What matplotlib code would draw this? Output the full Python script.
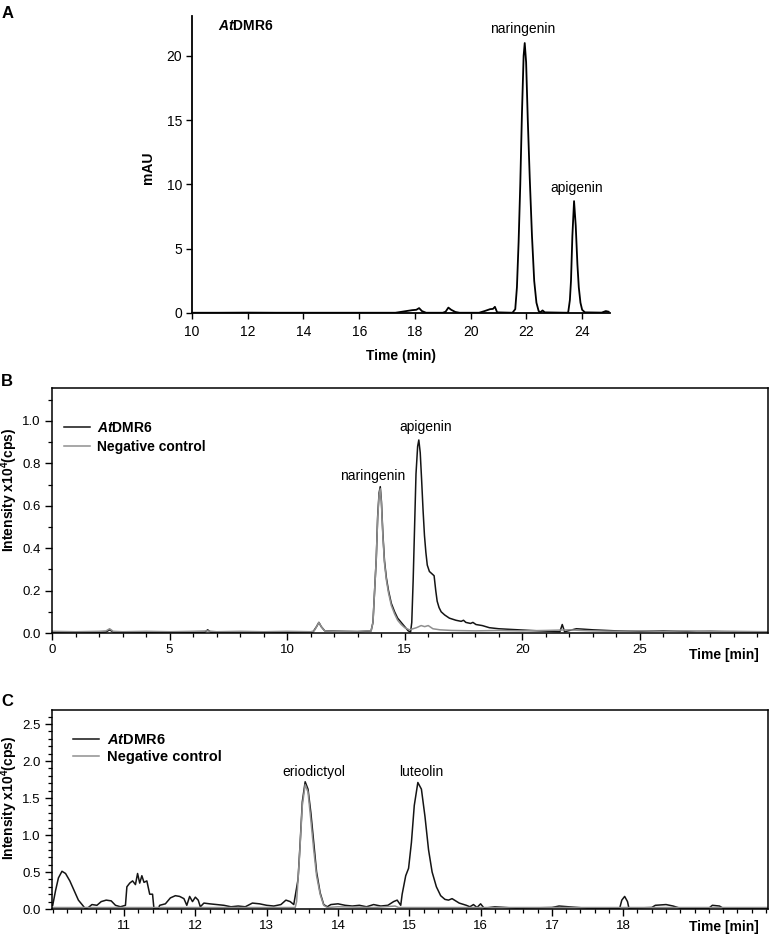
import matplotlib
matplotlib.use("Agg")
import matplotlib.pyplot as plt
from matplotlib.ticker import MultipleLocator, FuncFormatter

plt.rcParams['font.family'] = ['Liberation Sans', 'DejaVu Sans']
plt.rcParams['mathtext.fontset'] = 'custom'
plt.rcParams['mathtext.rm'] = 'Liberation Sans:bold'
plt.rcParams['mathtext.bf'] = 'Liberation Sans:bold'
plt.rcParams['mathtext.it'] = 'Liberation Sans:italic:bold'
plt.rcParams['mathtext.default'] = 'rm'

# ---------------- Panel A data (HPLC, mAU) ----------------
a_time = [10, 11, 12, 13, 14, 15, 16, 17, 17.3, 17.6, 17.9, 18.05, 18.15, 18.25, 18.4,
          19.0, 19.1, 19.2, 19.3, 19.45, 19.6, 20.3, 20.5, 20.7, 20.8, 20.87, 20.95,
          21.5, 21.6, 21.66, 21.72, 21.78, 21.84, 21.9, 21.94, 21.99, 22.05, 22.12, 22.2,
          22.28, 22.36, 22.44, 22.5, 22.58, 22.66, 23.45, 23.5, 23.56, 23.6, 23.65, 23.71,
          23.77, 23.83, 23.88, 23.94, 24.0, 24.1, 24.7, 24.85, 24.95]
a_mau = [0.02, 0.02, 0.03, 0.02, 0.02, 0.02, 0.02, 0.02, 0.02, 0.12, 0.22, 0.25, 0.38, 0.15, 0.02,
         0.02, 0.10, 0.42, 0.25, 0.08, 0.02, 0.02, 0.15, 0.30, 0.32, 0.48, 0.05,
         0.02, 0.30, 2.0, 5.5, 10.0, 15.5, 20.0, 21.0, 19.5, 15.0, 10.5, 6.0,
         2.5, 0.8, 0.15, 0.05, 0.20, 0.05, 0.02, 0.05, 1.0, 2.5, 6.0, 8.7,
         6.8, 3.8, 2.0, 0.8, 0.25, 0.05, 0.03, 0.15, 0.10]
a_labels = ['naringenin', 'apigenin']
a_label_pos = [(21.86, 22.1), (23.8, 9.7)]

# ---------------- Panel B data (LC-MS, naringenin -> apigenin) ----------------
b_time_dmr6 = [0, 1, 2, 2.3, 2.45, 2.6, 4, 6.5, 6.62, 6.75, 8, 10, 11.1, 11.25, 11.35, 11.45,
               11.6, 13.0, 13.57, 13.65, 13.72, 13.79, 13.85, 13.91, 13.96, 14.01, 14.07, 14.14,
               14.22, 14.31, 14.43, 14.57, 14.7, 14.85, 15.0, 15.15, 15.25, 15.3, 15.36, 15.42,
               15.48, 15.55, 15.6, 15.66, 15.72, 15.78, 15.84, 15.9, 15.96, 16.05, 16.15, 16.25,
               16.32, 16.38, 16.46, 16.55, 16.7, 16.9, 17.18, 17.4, 17.5, 17.6, 17.8, 17.9,
               18.03, 18.3, 18.6, 19.0, 19.5, 20.0, 20.7, 21.6, 21.7, 21.8, 22.3, 22.6, 23.0,
               24, 25, 26, 27, 28, 29, 30.45]
b_int_dmr6 = [0.004, 0.005, 0.004, 0.005, 0.015, 0.005, 0.004, 0.004, 0.015, 0.004, 0.005, 0.004,
              0.005, 0.03, 0.05, 0.03, 0.01, 0.006, 0.01, 0.05, 0.20, 0.35, 0.55, 0.66, 0.69,
              0.62, 0.47, 0.34, 0.26, 0.20, 0.14, 0.10, 0.07, 0.05, 0.03, 0.01, 0.005, 0.05,
              0.25, 0.50, 0.75, 0.88, 0.91, 0.85, 0.72, 0.58, 0.46, 0.38, 0.32, 0.29, 0.28,
              0.27, 0.20, 0.15, 0.12, 0.10, 0.085, 0.07, 0.06, 0.055, 0.06, 0.05, 0.045, 0.05,
              0.04, 0.035, 0.025, 0.02, 0.017, 0.014, 0.01, 0.006, 0.04, 0.006, 0.02, 0.018,
              0.015, 0.01, 0.008, 0.01, 0.007, 0.008, 0.006, 0.005]
b_time_ctrl = [0, 1, 2, 2.3, 2.45, 2.6, 3, 4, 5, 6, 6.6, 7, 8, 9, 10, 11, 11.15, 11.25, 11.35,
               11.45, 11.6, 12, 13, 13.5, 13.57, 13.65, 13.72, 13.79, 13.85, 13.91, 13.96, 14.01,
               14.07, 14.14, 14.22, 14.31, 14.43, 14.57, 14.7, 14.85, 15.0, 15.2, 15.5, 15.7,
               15.85, 16.0, 16.2, 16.5, 17, 18, 19, 20, 21, 22, 22.5, 23, 24, 25, 26, 27, 28,
               29, 30.45]
b_int_ctrl = [0.008, 0.006, 0.008, 0.01, 0.02, 0.008, 0.006, 0.008, 0.006, 0.008, 0.01, 0.006,
              0.008, 0.006, 0.008, 0.006, 0.01, 0.03, 0.05, 0.03, 0.01, 0.008, 0.008, 0.01,
              0.01, 0.05, 0.20, 0.35, 0.54, 0.65, 0.68, 0.61, 0.46, 0.33, 0.25, 0.19, 0.13,
              0.09, 0.06, 0.04, 0.025, 0.015, 0.025, 0.035, 0.03, 0.035, 0.02, 0.015, 0.012,
              0.01, 0.012, 0.01, 0.012, 0.015, 0.012, 0.01, 0.008, 0.01, 0.008, 0.01, 0.006,
              0.008, 0.006]
b_labels = ['naringenin', 'apigenin']
b_label_pos = [(13.64, 0.74), (15.9, 0.97)]
b_tick_labels = ['0', '5', '10', '15', '20', '25']

# ---------------- Panel C data (LC-MS, eriodictyol -> luteolin) ----------------
c_time_dmr6 = [10.0, 10.04, 10.08, 10.13, 10.18, 10.24, 10.3, 10.36, 10.42, 10.46, 10.5, 10.55,
               10.62, 10.68, 10.75, 10.82, 10.88, 10.95, 11.02, 11.04, 11.08, 11.12, 11.16,
               11.19, 11.22, 11.25, 11.28, 11.32, 11.36, 11.4, 11.42, 11.48, 11.5, 11.58,
               11.65, 11.72, 11.78, 11.84, 11.88, 11.92, 11.96, 12.0, 12.04, 12.07, 12.12,
               12.2, 12.3, 12.4, 12.5, 12.6, 12.7, 12.8, 12.9, 13.0, 13.1, 13.2, 13.27, 13.33,
               13.38, 13.44, 13.47, 13.5, 13.54, 13.58, 13.62, 13.66, 13.7, 13.75, 13.8, 13.85,
               13.9, 14.0, 14.1, 14.2, 14.3, 14.4, 14.5, 14.6, 14.7, 14.78, 14.83, 14.88, 14.9,
               14.95, 14.99, 15.03, 15.07, 15.12, 15.17, 15.22, 15.27, 15.32, 15.38, 15.44,
               15.5, 15.55, 15.6, 15.65, 15.7, 15.8, 15.85, 15.9, 15.95, 16.0, 16.05, 16.2,
               16.5, 17.0, 17.1, 17.5, 17.95, 17.98, 18.02, 18.06, 18.08, 18.4, 18.45, 18.6,
               18.7, 18.8, 19.2, 19.25, 19.35, 19.4, 20.03]
c_int_dmr6 = [0.05, 0.25, 0.42, 0.51, 0.48, 0.38, 0.25, 0.12, 0.05, 0.0, 0.02, 0.06,
              0.05, 0.10, 0.12, 0.11, 0.05, 0.03, 0.05, 0.30, 0.35, 0.38, 0.33,
              0.48, 0.35, 0.45, 0.36, 0.38, 0.20, 0.20, 0.0, 0.0, 0.05, 0.07,
              0.15, 0.18, 0.17, 0.14, 0.05, 0.17, 0.10, 0.16, 0.12, 0.03, 0.08,
              0.07, 0.06, 0.05, 0.03, 0.04, 0.03, 0.08, 0.07, 0.05, 0.04, 0.06, 0.12, 0.10,
              0.06, 0.40, 0.90, 1.45, 1.72, 1.62, 1.30, 0.90, 0.50, 0.22, 0.06, 0.03,
              0.06, 0.07, 0.05, 0.04, 0.05, 0.03, 0.06, 0.04, 0.05, 0.10, 0.12, 0.05, 0.20,
              0.45, 0.55, 0.90, 1.40, 1.71, 1.62, 1.25, 0.80, 0.50, 0.30, 0.18,
              0.13, 0.12, 0.14, 0.11, 0.08, 0.05, 0.03, 0.06, 0.02, 0.07, 0.01, 0.03,
              0.01, 0.02, 0.04, 0.01, 0.01, 0.12, 0.17, 0.10, 0.01, 0.02, 0.05, 0.06,
              0.04, 0.01, 0.01, 0.05, 0.04, 0.01, 0.01]
c_time_ctrl = [10.0, 11.0, 12.0, 13.0, 13.4, 13.42, 13.46, 13.5, 13.54, 13.58, 13.62, 13.66,
               13.7, 13.75, 13.8, 13.85, 14.0, 14.5, 14.8, 14.85, 15.5, 16, 17, 18, 19, 20.03]
c_int_ctrl = [0.02, 0.02, 0.02, 0.02, 0.02, 0.10, 0.70, 1.40, 1.68, 1.58, 1.20, 0.80,
              0.45, 0.20, 0.05, 0.02, 0.03, 0.02, 0.04, 0.02, 0.02, 0.02, 0.02, 0.02, 0.02, 0.02]
c_labels = ['eriodictyol', 'luteolin']
c_label_pos = [(13.66, 1.85), (15.17, 1.85)]
c_tick_labels = ['11', '12', '13', '14', '15', '16', '17', '18']

legend_labels = [r'$\mathit{At}$DMR6', 'Negative control']
dark = '#141414'
grey = '#8f8f8f'

W, H = 772, 936
fig = plt.figure(figsize=(W / 100, H / 100), dpi=100)


def rect(l, r, t, b):
    return [l / W, (H - b) / H, (r - l) / W, (b - t) / H]


# ---------------- Panel A ----------------
axA = fig.add_axes(rect(192, 610, 16, 313))
axA.plot(a_time, a_mau, color='black', lw=1.3)
axA.set_xlim(10, 25)
axA.set_ylim(0, 23.1)
axA.set_xticks(range(10, 25, 2))
axA.set_yticks([0, 5, 10, 15, 20])
for s in ['top', 'right']:
    axA.spines[s].set_visible(False)
for s in ['left', 'bottom']:
    axA.spines[s].set_linewidth(1.3)
axA.tick_params(direction='out', length=4, width=1, labelsize=10, pad=3)
axA.tick_params(axis='x', pad=5)
axA.set_ylabel('mAU', fontsize=10, fontweight='bold')
axA.yaxis.set_label_coords(-0.088, 0.49)
axA.set_xlabel('Time (min)', fontsize=10, fontweight='bold', labelpad=7)
axA.text(10.93, 22.3, r'$\mathit{At}$DMR6', fontsize=10, fontweight='bold', va='center', ha='left')
for lab, (x, y) in zip(a_labels, a_label_pos):
    axA.text(x, y, lab, fontsize=10, ha='center', va='center')
fig.text(8 / W, 1 - 13 / H, 'A', fontsize=12, fontweight='bold', ha='center', va='center')


def style_ms(ax, xlim, ylim, ymaj, ymin, xmin):
    ax.set_xlim(*xlim)
    ax.set_ylim(*ylim)
    ax.yaxis.set_major_locator(MultipleLocator(ymaj))
    ax.yaxis.set_minor_locator(MultipleLocator(ymin))
    ax.xaxis.set_minor_locator(MultipleLocator(xmin))
    ax.yaxis.set_major_formatter(FuncFormatter(lambda v, p: f'{v:.1f}'))
    for s in ax.spines.values():
        s.set_linewidth(1.1)
    ax.tick_params(which='major', direction='out', length=5, width=1, labelsize=9.5, pad=3,
                   top=False, right=False)
    ax.tick_params(which='minor', direction='out', length=3, width=0.9, top=False, right=False)


# ---------------- Panel B ----------------
axB = fig.add_axes(rect(52, 768, 388, 633))
lb1, = axB.plot(b_time_dmr6, b_int_dmr6, color=dark, lw=1.1)
lb2, = axB.plot(b_time_ctrl, b_int_ctrl, color=grey, lw=1.1)
style_ms(axB, (0, 30.45), (0, 1.155), 0.2, 0.1, 1)
axB.set_xticks([float(t) for t in b_tick_labels], labels=b_tick_labels)
axB.set_ylabel('Intensity x10$^{4}$(cps)', fontsize=10, fontweight='bold')
axB.yaxis.set_label_coords(-0.045, 0.584)
axB.text(759 / W, 1 - 655 / H, 'Time [min]', transform=fig.transFigure, fontsize=10,
         fontweight='bold', ha='right', va='center')
for lab, (x, y) in zip(b_labels, b_label_pos):
    axB.text(x, y, lab, fontsize=10, ha='center', va='center')
axB.legend([lb1, lb2], legend_labels, loc='upper left', frameon=False,
           bbox_to_anchor=((64 - 52) / 716, (633 - 421) / 245), borderaxespad=0, borderpad=0,
           handlelength=1.9, handletextpad=0.45, labelspacing=0.33,
           prop={'weight': 'bold', 'size': 10})
fig.text(7 / W, 1 - 381 / H, 'B', fontsize=12, fontweight='bold', ha='center', va='center')

# ---------------- Panel C ----------------
axC = fig.add_axes(rect(52, 768, 710, 909))
lc1, = axC.plot(c_time_dmr6, c_int_dmr6, color=dark, lw=1.1)
lc2, = axC.plot(c_time_ctrl, c_int_ctrl, color=grey, lw=1.1)
style_ms(axC, (9.99, 20.03), (0, 2.69), 0.5, 0.1, 0.2)
axC.set_xticks([float(t) for t in c_tick_labels], labels=c_tick_labels)
axC.set_ylabel('Intensity x10$^{4}$(cps)', fontsize=10, fontweight='bold')
axC.yaxis.set_label_coords(-0.045, 0.558)
axC.text(759 / W, 1 - 927 / H, 'Time [min]', transform=fig.transFigure, fontsize=10,
         fontweight='bold', ha='right', va='center')
for lab, (x, y) in zip(c_labels, c_label_pos):
    axC.text(x, y, lab, fontsize=10, ha='center', va='center')
axC.legend([lc1, lc2], legend_labels, loc='upper left', frameon=False,
           bbox_to_anchor=((73 - 52) / 716, (909 - 733) / 199), borderaxespad=0, borderpad=0,
           handlelength=1.75, handletextpad=0.55, labelspacing=0.2,
           prop={'weight': 'bold', 'size': 10.5})
fig.text(7 / W, 1 - 702 / H, 'C', fontsize=12, fontweight='bold', ha='center', va='center')

fig.savefig('out.png', dpi=100)
